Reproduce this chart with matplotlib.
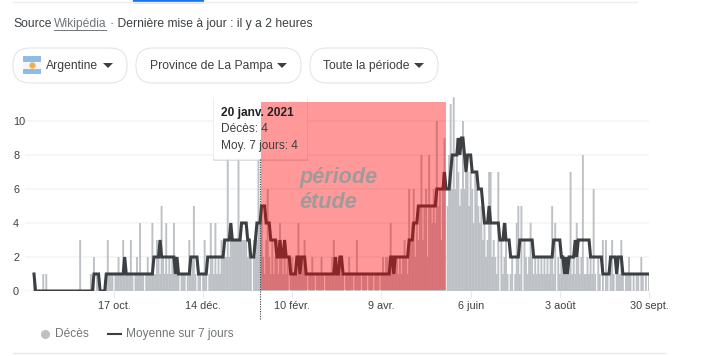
import matplotlib
matplotlib.use("Agg")
import matplotlib.pyplot as plt
from matplotlib.patches import FancyBboxPatch, Rectangle, Polygon
import pandas as pd

plt.rcParams['font.family'] = ['Liberation Sans', 'DejaVu Sans']

deces = [
    1,0,0,0,0,0,1,0,1,0,
    0,0,0,0,0,0,0,0,0,0,
    0,0,0,0,0,0,0,0,0,0,
    3,0,0,0,0,0,0,1,0,2,
    0,1,0,0,0,0,0,1,3,1,
    1,1,0,1,1,2,1,1,3,2,
    1,1,1,3,1,0,1,2,1,4,
    1,1,0,1,2,1,1,4,1,1,
    3,2,1,5,2,1,4,1,2,1,
    2,4,1,1,1,0,1,1,1,0,
    1,3,1,2,5,1,0,1,1,0,
    1,3,1,0,1,4,2,1,4,1,
    2,1,3,2,2,2,8,2,4,3,
    3,3,3,8,3,3,3,3,3,2,
    3,2,0,3,2,3,8,4,5,2,
    1,3,6,2,1,3,1,2,3,1,
    4,2,1,3,1,2,0,1,2,1,
    1,1,4,2,1,2,3,1,0,1,
    1,2,1,0,1,1,1,2,1,0,
    1,1,1,1,2,3,1,1,2,2,
    1,1,0,1,1,2,1,1,0,1,
    3,1,1,0,1,1,1,0,1,1,
    1,0,1,1,1,0,1,2,1,2,
    2,1,4,2,1,2,2,1,2,1,
    2,3,2,1,6,3,4,6,2,4,
    3,5,8,3,5,6,2,8,5,4,
    6,4,10,5,6,3,7,9,0,5,
    8,11,6,11.4,6,9,7,5,6,10,
    6,8,7,5,7,6,4,7,6,5,
    4,5,3,4,2,3,7,7,2,3,
    2,1,7,0,3,1,2,4,1,0,
    1,2,0,1,4,5,1,5,0,3,
    2,1,2,4,2,1,2,1,2,1,
    2,1,2,1,2,1,2,5,1,4,
    0,2,1,2,1,1,2,1,1,7,
    1,2,1,4,2,1,2,8,1,1,
    2,1,2,1,6,1,0,2,1,0,
    3,0,3,1,0,2,3,1,0,2,
    1,1,3,1,0,1,1,2,1,0,
    1,0,1,1,0,2,1,0,1,0,
    1,
]

moyenne = [
    1,0,0,0,0,0,0,0,0,0,
    0,0,0,0,0,0,0,0,0,0,
    0,0,0,0,0,0,0,0,0,0,
    0,0,0,0,0,0,0,0,0,1,
    1,1,1,0,0,0,0,1,1,1,
    1,1,1,1,1,1,1,1,1,2,
    1,1,1,1,1,1,1,1,1,1,
    1,1,1,1,1,1,1,1,2,2,
    2,2,3,2,2,2,2,2,2,2,
    2,2,1,2,1,1,1,1,1,1,
    1,1,2,2,2,2,2,1,1,1,
    1,1,1,2,2,2,2,2,2,2,
    2,2,2,2,3,3,3,3,4,3,
    3,3,3,3,3,4,4,4,4,3,
    3,2,2,2,3,4,4,4,5,5,
    5,4,4,4,3,3,3,3,2,2,
    3,2,2,3,2,2,2,1,1,1,
    1,2,2,1,2,2,2,1,1,1,
    1,1,1,1,1,1,1,1,1,1,
    1,1,1,1,1,1,2,1,1,2,
    2,1,1,1,1,1,1,1,1,1,
    1,1,1,1,1,1,1,1,1,1,
    1,1,1,1,1,1,1,1,1,1,
    1,1,2,2,1,2,2,2,2,2,
    2,2,2,2,3,3,3,4,4,4,
    5,5,5,5,5,5,5,5,5,5,
    5,5,6,6,6,6,6,7,6,6,
    6,7,8,8,8,8,9,8,9,9,
    8,7,8,8,8,7,7,7,7,6,
    6,6,5,4,4,4,5,4,4,4,
    4,4,4,3,3,3,4,3,3,3,
    2,2,2,2,2,2,3,3,3,3,
    3,3,3,3,3,2,2,2,2,2,
    2,2,2,2,2,2,2,2,3,3,
    3,3,3,2,2,1,2,1,2,2,
    2,2,3,2,3,3,3,3,3,3,
    3,3,2,2,2,2,2,2,2,2,
    1,1,1,1,1,2,2,2,2,1,
    2,2,2,1,1,1,1,1,1,1,
    1,1,1,1,1,1,1,1,1,1,
    1,
]

date_debut = '2020-08-26'
tick_dates = ['2020-10-17', '2020-12-14', '2021-02-10', '2021-04-09', '2021-06-06', '2021-08-03', '2021-09-30']
tick_labels = ['17 oct.', '14 déc.', '10 févr.', '9 avr.', '6 juin', '3 août', '30 sept.']
y_ticks = [0, 2, 4, 6, 8, 10]

W, H = 702, 356
fig = plt.figure(figsize=(W / 100, H / 100), dpi=100)

# zone du graphique en pixels : x 25-649, y 90-291
ax = fig.add_axes([25 / W, (H - 291) / H, 624 / W, 201 / H])
dates = pd.date_range(date_debut, periods=len(deces))
barres = ax.bar(dates, deces, width=1.25, color='#bdc1c6', zorder=2)
for b in barres:
    b.set_snap(False)
    b.set_linewidth(0)
ax.plot(dates, moyenne, color='#3c4043', lw=2.2, solid_joinstyle='miter', zorder=3)

ax.set_xlim(dates[0] - pd.Timedelta(days=5.85), dates[-1])
ax.set_ylim(0, 201 / 17)
ax.set_yticks(y_ticks)
ax.grid(axis='y', color='#f4f5f6', lw=1.2, zorder=1)
ax.set_xticks(pd.to_datetime(tick_dates))
ax.set_xticklabels(tick_labels)
ax.tick_params(axis='x', length=5, color='#e8eaed', labelsize=7.8, labelcolor='#3c4043', pad=2)
ax.tick_params(axis='y', length=0, pad=8.6, labelsize=7.8, labelcolor='#3c4043')
for lab in ax.get_yticklabels():
    lab.set_ha('left')
for s in ax.spines.values():
    s.set_visible(False)

# calque en pixels pour l'interface autour du graphique
ui = fig.add_axes([0, 0, 1, 1], zorder=5)
ui.set_xlim(0, W)
ui.set_ylim(H, 0)
ui.axis('off')
ui.patch.set_alpha(0)

ui.plot([13, 637], [2, 2], color='#eceef0', lw=1)
ui.add_patch(Rectangle((133, 0), 70, 2, color='#1a73e8'))

txt = dict(fontsize=8.7, color='#3c4043', va='center')
ui.text(13, 24, 'Source', **txt)
ui.text(54, 24, 'Wikipédia', fontsize=8.7, color='#70757a', va='center')
ui.plot([54, 106], [30, 30], color='#70757a', lw=0.7)
ui.text(110, 24, '· Dernière mise à jour : il y a 2 heures', **txt)

# boutons
boutons = [(13, 127, 'Argentine', 46), (136, 301, 'Province de La Pampa', 150), (310, 438, 'Toute la période', 323)]
for x0, x1, label, xt in boutons:
    ui.add_patch(FancyBboxPatch((x0 + 17, 48 + 17), x1 - x0 - 34, 1, boxstyle='round,pad=17,rounding_size=17',
                                fc='white', ec='#e3e5e8', lw=0.8))
    ui.text(xt, 66, label, fontsize=8.7, color='#3c4043', va='center')
    ui.add_patch(Polygon([(x1 - 24, 63), (x1 - 14, 63), (x1 - 19, 68)], fc='#3c4043', ec='none'))

# drapeau
ui.add_patch(Rectangle((23, 56), 18, 18, fc='#f4f6f8', ec='none'))
ui.add_patch(Rectangle((23, 56), 18, 5.5, fc='#8fbce6', ec='none'))
ui.add_patch(Rectangle((23, 68.5), 18, 5.5, fc='#8fbce6', ec='none'))
ui.plot([32], [65], 'o', color='#eeb04a', ms=3.5)

# repère vertical et infobulle
ui.plot([260, 260], [159, 319], color='#3c4043', lw=0.8, ls=(0, (1, 1.2)))
ui.add_patch(FancyBboxPatch((214.5, 98.5), 92, 61, boxstyle='round,pad=1.5,rounding_size=2', fc='#d0d0d0', ec='none', alpha=0.7))
ui.add_patch(FancyBboxPatch((215, 98), 91, 60, boxstyle='round,pad=1.5,rounding_size=2', fc='white', ec='none'))
ui.text(221, 113, '20 janv. 2021', fontsize=8.6, fontweight='bold', color='#202124', va='center')
ui.text(221, 129, 'Décès: 4', fontsize=8.6, color='#3c4043', va='center')
ui.text(221, 146, 'Moy. 7 jours: 4', fontsize=8.6, color='#3c4043', va='center')

# période d'étude
ui.add_patch(Rectangle((261, 102), 185, 188, fc='#ff0000', ec='none', alpha=0.4))
ui.text(299, 178, 'période', fontsize=15.6, fontstyle='italic', fontweight='bold', color='#a09a9a', va='center')
ui.text(299, 203, 'étude', fontsize=15.6, fontstyle='italic', fontweight='bold', color='#a09a9a', va='center')

# légende
ui.plot([45], [334], 'o', color='#bdc1c6', ms=5.5)
ui.text(55, 334, 'Décès', fontsize=8.6, color='#70757a', va='center')
ui.plot([108, 121], [334, 334], color='#3c4043', lw=1.5)
ui.text(126, 334, 'Moyenne sur 7 jours', fontsize=8.6, color='#70757a', va='center')
ui.plot([13, 665], [353, 353], color='#e8eaed', lw=1)

fig.savefig('out.png', dpi=100)
